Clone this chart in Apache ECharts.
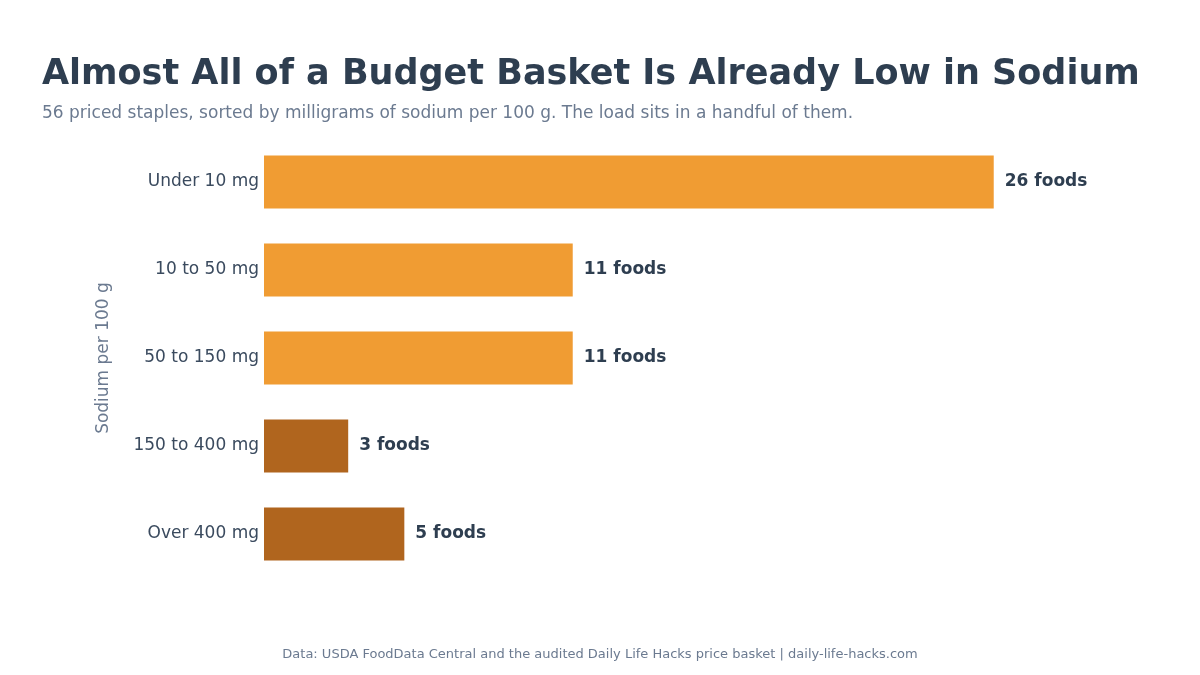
<!DOCTYPE html>
<html><head><meta charset="utf-8">
<script src="https://cdn.jsdelivr.net/npm/echarts@6/dist/echarts.min.js"></script>
<style>html,body{margin:0;padding:0;background:#fff}#c{width:1200px;height:675px}</style>
</head><body><div id="c"></div>
<script>
const categories = ["Under 10 mg", "10 to 50 mg", "50 to 150 mg", "150 to 400 mg", "Over 400 mg"];
const counts = [26, 11, 11, 3, 5];
const highSodium = [false, false, false, true, true];
const valueSuffix = " foods";

const LIGHT = "#F09C33", DARK = "#B0651E";
const chart = echarts.init(document.getElementById('c'), null, {renderer: 'canvas'});
const F = "'DejaVu Sans', Verdana, sans-serif";
chart.setOption({
  backgroundColor: '#fff',
  animation: false,
  title: [
    {text: "Almost All of a Budget Basket Is Already Low in Sodium", left: 37, top: 52,
     textStyle: {fontFamily: F, fontSize: 35, fontWeight: 'bold', color: '#2E3E50'}},
    {text: "56 priced staples, sorted by milligrams of sodium per 100 g. The load sits in a handful of them.", left: 37, top: 100,
     textStyle: {fontFamily: F, fontSize: 17, fontWeight: 'normal', color: '#6B7A90'}},
    {text: "Data: USDA FoodData Central and the audited Daily Life Hacks price basket | daily-life-hacks.com", left: 'center', top: 643,
     textStyle: {fontFamily: F, fontSize: 13, fontWeight: 'normal', color: '#6B7A90'}}
  ],
  grid: {left: 264, top: 138, width: 842, height: 440, containLabel: false},
  xAxis: {type: 'value', min: 0, max: 30, show: false},
  yAxis: {type: 'category', data: categories, inverse: true,
    name: "Sodium per 100 g", nameLocation: 'middle', nameGap: 152, nameRotate: 90,
    nameTextStyle: {fontFamily: F, fontSize: 17, color: '#6B7A90'},
    axisLine: {show: false}, axisTick: {show: false},
    axisLabel: {fontFamily: F, fontSize: 17, color: '#3A4A5E', margin: 5}},
  series: [{
    type: 'bar', barWidth: 53,
    data: counts.map((v, i) => ({value: v, itemStyle: {color: highSodium[i] ? DARK : LIGHT}})),
    label: {show: true, position: 'right', distance: 11, formatter: p => p.value + valueSuffix,
      fontFamily: F, fontSize: 17, fontWeight: 'bold', color: '#2E3E50'}
  }]
});
</script></body></html>
